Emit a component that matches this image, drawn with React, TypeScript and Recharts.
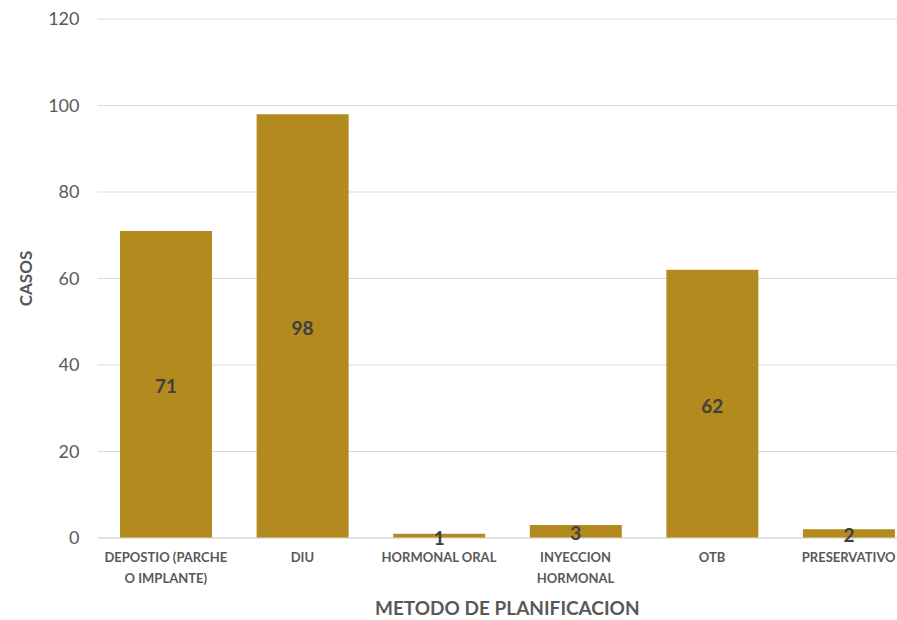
import { BarChart, Bar, XAxis, YAxis, CartesianGrid, LabelList } from 'recharts';

const categories = [
  'DEPOSTIO (PARCHE O IMPLANTE)',
  'DIU',
  'HORMONAL ORAL',
  'INYECCION HORMONAL',
  'OTB',
  'PRESERVATIVO',
];
const casos = [71, 98, 1, 3, 62, 2];
const yTicks = [0, 20, 40, 60, 80, 100, 120];

const data = categories.map((metodo, i) => ({ metodo, casos: casos[i] }));

const FONT = 'Lato, "Open Sans", sans-serif';
const GOLD = '#b28a1d';

// greedy wrap, roughly how Excel breaks these long category names
function wrap(label: string, max = 16) {
  const lines: string[] = [];
  let cur = '';
  for (const w of label.split(' ')) {
    const next = cur ? `${cur} ${w}` : w;
    if (next.length > max && cur) {
      lines.push(cur);
      cur = w;
    } else {
      cur = next;
    }
  }
  if (cur) lines.push(cur);
  return lines;
}

function CategoryTick(props: any) {
  const { x, y, payload } = props;
  const lines = wrap(String(payload.value));
  return (
    <text
      x={x}
      y={y}
      textAnchor="middle"
      fill="#595959"
      fontSize={13}
      fontWeight={700}
      fontFamily={FONT}
    >
      {lines.map((l, i) => (
        <tspan key={i} x={x} dy={i === 0 ? 16 : 21}>
          {l}
        </tspan>
      ))}
    </text>
  );
}

export default function App() {
  return (
    <div
      style={{
        position: 'absolute',
        left: 0,
        top: 0,
        width: 897,
        height: 620,
        overflow: 'hidden',
        background: '#fff',
      }}
    >
      <BarChart
        width={930}
        height={620}
        data={data}
        margin={{ top: 19, right: 13, left: 0, bottom: 0 }}
        barCategoryGap="16.5%"
      >
        <CartesianGrid vertical={false} stroke="#d9d9d9" />
        <XAxis
          dataKey="metodo"
          height={82}
          interval={0}
          tickLine={false}
          axisLine={{ stroke: '#d9d9d9' }}
          tick={<CategoryTick />}
          label={{
            value: 'METODO DE PLANIFICACION',
            position: 'insideBottom',
            offset: 5,
            fill: '#595959',
            fontSize: 19,
            fontWeight: 700,
            fontFamily: FONT,
          }}
        />
        <YAxis
          width={97.5}
          domain={[0, 120]}
          ticks={yTicks}
          tickLine={false}
          axisLine={false}
          tickMargin={12}
          tick={{ fill: '#595959', fontSize: 18, fontFamily: FONT }}
          label={{
            value: 'CASOS',
            angle: -90,
            position: 'center',
            dx: -23,
            fill: '#595959',
            fontSize: 17,
            fontWeight: 700,
            fontFamily: FONT,
          }}
        />
        <Bar dataKey="casos" fill={GOLD} isAnimationActive={false}>
          <LabelList
            dataKey="casos"
            position="center"
            dy={2}
            fill="#404040"
            fontSize={19}
            fontWeight={700}
            fontFamily={FONT}
          />
        </Bar>
      </BarChart>
    </div>
  );
}
